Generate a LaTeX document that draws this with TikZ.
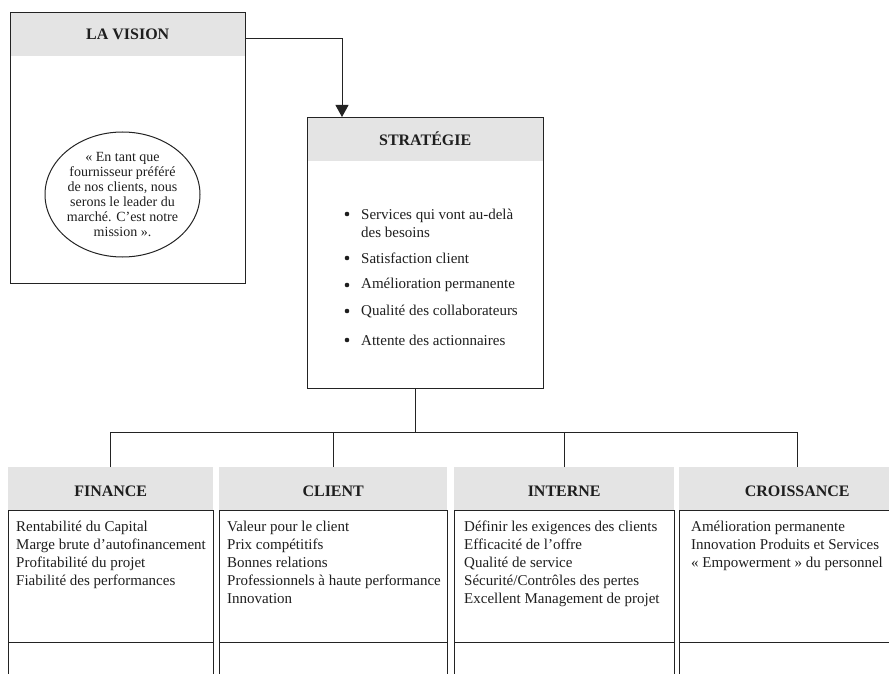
\documentclass[tikz,border=0pt]{standalone}
\usepackage{fontspec}
\setmainfont{Liberation Serif}
\usetikzlibrary{arrows.meta,shapes.geometric}
\definecolor{hdrgray}{RGB}{228,228,228}
\definecolor{ink}{RGB}{30,30,30}
\definecolor{linec}{RGB}{35,35,35}
\begin{document}
\begin{tikzpicture}[x=1pt,y=-1pt,
  hdr/.style={fill=hdrgray, draw=none, inner sep=0pt, anchor=north west},
  ttl/.style={inner sep=0pt, text=ink, font=\fontsize{16}{18}\selectfont\bfseries},
  frame/.style={draw=linec, line width=1pt, inner sep=0pt, anchor=north west},
  body/.style={inner sep=0pt, anchor=north west, align=left, text=ink, font=\fontsize{15}{18}\selectfont},
  item/.style={inner sep=0pt, anchor=west, align=left, text=ink, font=\fontsize{15}{18}\selectfont},
  bul/.style={circle, fill=ink, inner sep=0pt, minimum size=4.6pt},
  conn/.style={draw=linec, line width=1pt},
  arr/.style={conn, -{Triangle[length=12pt,width=13pt]}}]
\useasboundingbox (0,0) rectangle (889,674);
\clip (0,0) rectangle (889,674);

% ---- LA VISION ----
\node[hdr, minimum width=235pt, minimum height=44pt] (vhead) at (10,12) {};
\node[ttl] (vtitle) at (vhead.center) {LA VISION};
\node[frame, minimum width=235pt, minimum height=271pt] (vision) at (10,12) {};
\node[draw=linec, line width=1pt, ellipse, inner sep=0pt, minimum width=155pt, minimum height=125pt] (mission) at (122.5,194.5) {};
\node[inner sep=0pt, align=center, text=ink, font=\fontsize{14}{15}\selectfont] (missiontxt) at (mission.center)
  {«~En tant que\\fournisseur préféré\\de nos clients, nous\\serons le leader du\\marché. C’est notre\\mission~».};

% ---- STRATEGIE ----
\node[hdr, minimum width=236pt, minimum height=44pt] (shead) at (307,117) {};
\node[ttl] (stitle) at (shead.center) {STRATÉGIE};
\node[frame, minimum width=236pt, minimum height=271pt] (strat) at (307,117) {};
\node[bul] (b1) at (347,214) {};
\node[bul] (b2) at (347,258) {};
\node[bul] (b3) at (347,285) {};
\node[bul] (b4) at (347,311) {};
\node[bul] (b5) at (347,340) {};
\node[item] (s1) at (361,223) {Services qui vont au-delà\\des besoins};
\node[item] (s2) at (361,258) {Satisfaction client};
\node[item] (s3) at (361,285) {Amélioration permanente};
\node[item] (s4) at (361,311) {Qualité des collaborateurs};
\node[item] (s5) at (361,340) {Attente des actionnaires};

% ---- arrow vision -> strategie ----
\coordinate (a0) at (245,39);
\coordinate (arrx) at (342,117);
\draw[arr] (a0) -| (arrx);

% ---- bottom perspectives ----
\node[hdr, minimum width=205pt, minimum height=43pt] (fhead) at (8,467) {};
\node[hdr, minimum width=228pt, minimum height=43pt] (chead) at (219,467) {};
\node[hdr, minimum width=220pt, minimum height=43pt] (ihead) at (454,467) {};
\node[hdr, minimum width=236pt, minimum height=43pt] (crhead) at (679,467) {};
\node[ttl] (ftitle) at ([yshift=-3pt]fhead.center) {FINANCE};
\node[ttl] (ctitle) at ([yshift=-3pt]chead.center) {CLIENT};
\node[ttl] (ititle) at ([yshift=-3pt]ihead.center) {INTERNE};
\node[ttl] (crtitle) at ([yshift=-3pt]crhead.center) {CROISSANCE};

\node[frame, minimum width=205pt, minimum height=132pt] (fbox) at (8,510) {};
\node[frame, minimum width=228pt, minimum height=132pt] (cbox) at (219,510) {};
\node[frame, minimum width=220pt, minimum height=132pt] (ibox) at (454,510) {};
\node[frame, minimum width=236pt, minimum height=132pt] (crbox) at (679,510) {};
\node[frame, minimum width=205pt, minimum height=60pt] (fbox2) at (8,642) {};
\node[frame, minimum width=228pt, minimum height=60pt] (cbox2) at (219,642) {};
\node[frame, minimum width=220pt, minimum height=60pt] (ibox2) at (454,642) {};
\node[frame, minimum width=236pt, minimum height=60pt] (crbox2) at (679,642) {};

\node[body] (ftxt) at (16,521) {Rentabilité du Capital\\Marge brute d’autofinancement\\Profitabilité du projet\\Fiabilité des performances};
\node[body] (ctxt) at (227,521) {Valeur pour le client\\Prix compétitifs\\Bonnes relations\\Professionnels à haute performance\\Innovation};
\node[body] (itxt) at (464,521) {Définir les exigences des clients\\Efficacité de l’offre\\Qualité de service\\Sécurité/Contrôles des pertes\\Excellent Management de projet};
\node[body] (crtxt) at (691,521) {Amélioration permanente\\Innovation Produits et Services\\«~Empowerment~» du personnel};

% ---- tree connectors ----
\coordinate (bus) at (415,432);
\draw[conn] (strat.south -| bus) -- (bus);
\draw[conn] (fhead.north) |- (bus);
\draw[conn] (bus) -| (crhead.north);
\draw[conn] (chead.north) -- (chead.north |- bus);
\draw[conn] (ihead.north) -- (ihead.north |- bus);
\end{tikzpicture}
\end{document}
